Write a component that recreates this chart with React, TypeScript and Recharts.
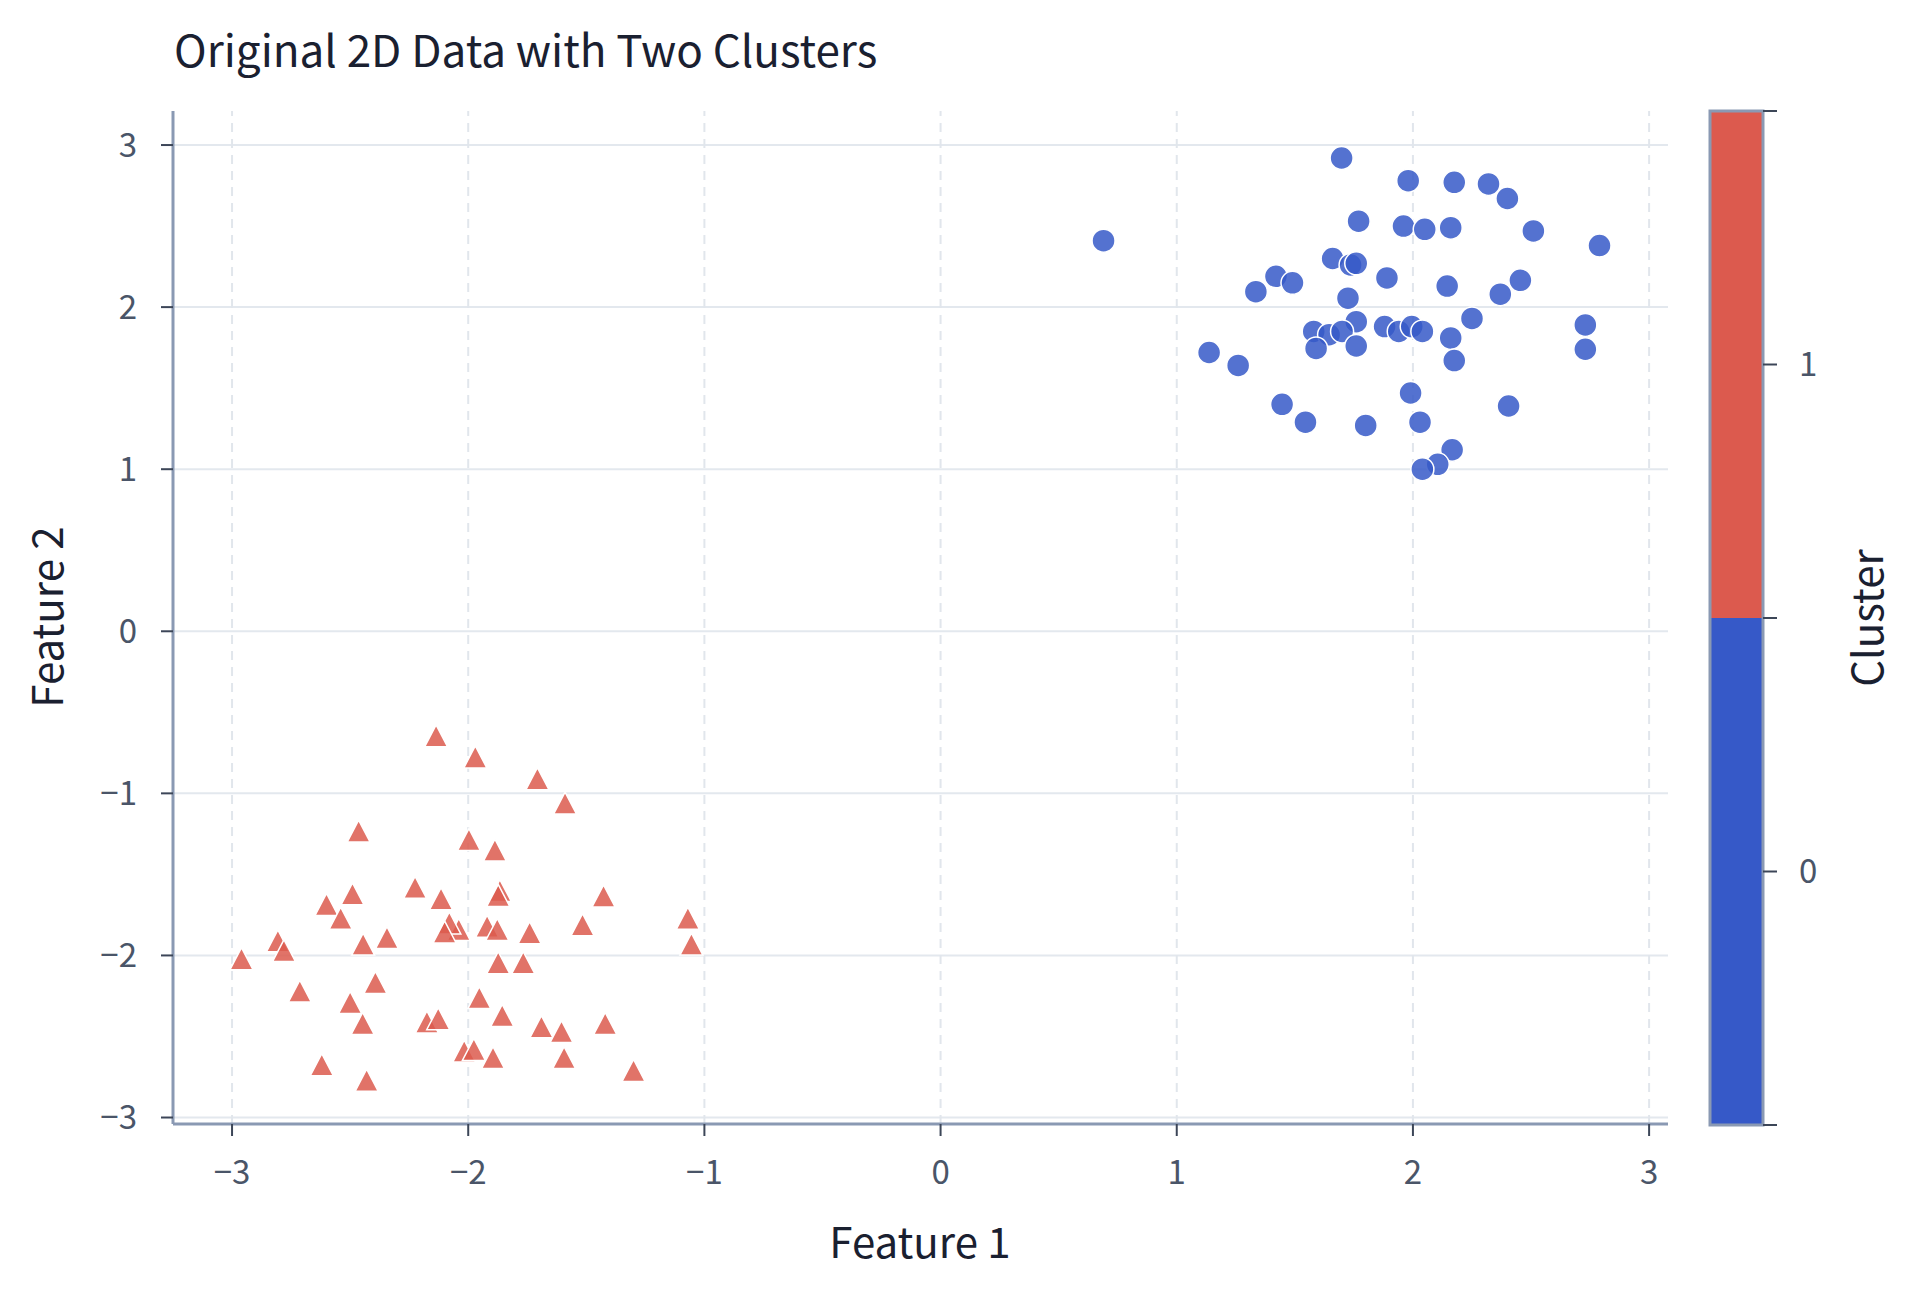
import React from 'react';
import {
  ScatterChart,
  Scatter,
  XAxis,
  YAxis,
  ReferenceLine,
  ComposedChart,
  ReferenceArea,
} from 'recharts';

// cluster 0 (blue circles)
const cluster0X = [
  1.698, 0.69, 1.98, 2.175, 2.32, 2.4, 1.77, 1.96, 2.05, 2.16, 2.51, 2.79, 1.66, 1.736, 1.76,
  1.42, 1.49, 1.335, 1.89, 2.145, 2.455, 2.37, 1.725, 1.76, 1.58, 1.645, 1.7, 1.59, 1.76, 1.88,
  1.94, 1.995, 2.04, 2.25, 2.16, 2.175, 2.73, 2.73, 1.137, 1.26, 1.446, 1.545, 1.8, 1.99, 2.03,
  2.405, 2.166, 2.105, 2.04,
];
const cluster0Y = [
  2.92, 2.41, 2.78, 2.77, 2.76, 2.67, 2.53, 2.5, 2.48, 2.49, 2.47, 2.38, 2.3, 2.26, 2.27,
  2.19, 2.15, 2.095, 2.18, 2.13, 2.165, 2.08, 2.055, 1.91, 1.85, 1.83, 1.85, 1.745, 1.76, 1.88,
  1.85, 1.88, 1.85, 1.93, 1.81, 1.67, 1.89, 1.74, 1.72, 1.64, 1.4, 1.29, 1.27, 1.47, 1.29,
  1.39, 1.12, 1.03, 1.0,
];

// cluster 1 (red triangles)
const cluster1X = [
  -2.136, -1.97, -1.707, -1.59, -2.464, -1.997, -1.887, -2.225, -2.115, -2.49, -2.6, -2.54,
  -1.866, -1.873, -1.427, -1.07, -1.055, -1.516, -1.74, -1.92, -1.877, -2.04, -2.08, -2.1,
  -2.344, -2.445, -2.806, -2.78, -2.96, -1.873, -1.767, -2.393, -2.713, -2.5, -2.447, -2.175,
  -2.127, -1.953, -1.856, -1.69, -1.605, -1.42, -2.017, -1.976, -1.895, -1.594, -2.62, -2.43,
  -1.3,
];
const cluster1Y = [
  -0.645, -0.775, -0.91, -1.06, -1.233, -1.285, -1.35, -1.58, -1.65, -1.62, -1.685, -1.77,
  -1.6, -1.63, -1.633, -1.77, -1.93, -1.81, -1.86, -1.82, -1.84, -1.84, -1.8, -1.855,
  -1.89, -1.93, -1.91, -1.97, -2.02, -2.045, -2.045, -2.167, -2.22, -2.29, -2.42, -2.41,
  -2.39, -2.26, -2.37, -2.44, -2.47, -2.42, -2.59, -2.58, -2.63, -2.63, -2.674, -2.77,
  -2.71,
];

const axisTicks = [-3, -2, -1, 0, 1, 2, 3];
const colorbarTicks = [-0.5, 0, 0.5, 1, 1.5];
const colorbarLabels = [0, 1];

const cluster0 = cluster0X.map((x, i) => ({ x, y: cluster0Y[i] }));
const cluster1 = cluster1X.map((x, i) => ({ x, y: cluster1Y[i] }));

const FONT = '"Noto Sans CJK KR", "Noto Sans", sans-serif';
const BLUE = '#3659c8';
const RED = '#dc5a4e';
const AXIS = '#8a99b3';
const TICK = '#3c4658';
const TICK_TEXT = '#4a5568';

const fmt = (v: number) => (v < 0 ? `\u2212${Math.abs(v)}` : `${v}`);

const Circle = (props: any) => (
  <circle cx={props.cx} cy={props.cy} r={11.5} fill={BLUE} fillOpacity={0.85} stroke="#fff" strokeWidth={1.5} />
);

const Triangle = (props: any) => {
  const { cx, cy } = props;
  return (
    <path
      d={`M${cx},${cy - 11} L${cx + 11.5},${cy + 11} L${cx - 11.5},${cy + 11} Z`}
      fill={RED}
      fillOpacity={0.85}
      stroke="#fff"
      strokeWidth={1.5}
    />
  );
};

const tickStyle = { fontFamily: FONT, fontSize: 33, fill: TICK_TEXT };

export default function App() {
  return (
    <div style={{ position: 'relative', width: 1920, height: 1293, background: '#fff' }}>
      <style>{`body{margin:0}`}</style>
      <div style={{ position: 'absolute', left: 0, top: 0 }}>
        <ScatterChart width={1920} height={1293} margin={{ top: 111, right: 252, bottom: 0, left: 0 }}>
          {/* solid horizontal grid, dashed vertical grid */}
          {axisTicks.map((t) => (
            <ReferenceLine key={`h${t}`} y={t} stroke="#e3e8ee" strokeWidth={2} />
          ))}
          {axisTicks.map((t) => (
            <ReferenceLine key={`v${t}`} x={t} stroke="#e1e6ec" strokeWidth={2} strokeDasharray="9 7" />
          ))}
          <XAxis
            type="number"
            dataKey="x"
            domain={[-3.25, 3.08]}
            ticks={axisTicks}
            allowDataOverflow
            height={169}
            axisLine={{ stroke: AXIS, strokeWidth: 3 }}
            tickLine={{ stroke: TICK, strokeWidth: 2 }}
            tickSize={12}
            tickMargin={25}
            tick={tickStyle}
            tickFormatter={fmt}
          />
          <YAxis
            type="number"
            dataKey="y"
            domain={[-3.04, 3.21]}
            ticks={axisTicks}
            allowDataOverflow
            width={173}
            axisLine={{ stroke: AXIS, strokeWidth: 3 }}
            tickLine={{ stroke: TICK, strokeWidth: 2 }}
            tickSize={12}
            tickMargin={24}
            tick={tickStyle}
            tickFormatter={fmt}
          />
          <Scatter data={cluster0} shape={Circle} isAnimationActive={false} />
          <Scatter data={cluster1} shape={Triangle} isAnimationActive={false} />
        </ScatterChart>
      </div>

      {/* colorbar */}
      <div style={{ position: 'absolute', left: 0, top: 0 }}>
        <ComposedChart width={1920} height={1293} data={[{ x: 0, y: 0 }]} margin={{ top: 111, right: 0, bottom: 168, left: 1710 }}>
          <XAxis type="number" dataKey="x" domain={[0, 1]} hide />
          <YAxis
            type="number"
            dataKey="y"
            orientation="right"
            domain={[-0.5, 1.5]}
            ticks={colorbarTicks}
            allowDataOverflow
            width={157}
            axisLine={false}
            tickLine={{ stroke: TICK, strokeWidth: 2 }}
            tickSize={14}
            tickMargin={22}
            tick={tickStyle}
            tickFormatter={(v: number) => (colorbarLabels.includes(v) ? `${v}` : '')}
          />
          <ReferenceArea x1={0} x2={1} y1={-0.5} y2={0.5} fill={BLUE} fillOpacity={1} stroke="none" />
          <ReferenceArea x1={0} x2={1} y1={0.5} y2={1.5} fill={RED} fillOpacity={1} stroke="none" />
          <ReferenceArea x1={0} x2={1} y1={-0.5} y2={1.5} fill="none" stroke={AXIS} strokeWidth={3} />
        </ComposedChart>
      </div>

      <svg width={1920} height={1293} style={{ position: 'absolute', left: 0, top: 0, pointerEvents: 'none' }}>
        <text x={174} y={67} fontFamily={FONT} fontSize={44} fill="#1a2030">
          Original 2D Data with Two Clusters
        </text>
        <text x={920} y={1258} textAnchor="middle" fontFamily={FONT} fontSize={42} fill="#1a2030">
          Feature 1
        </text>
        <text x={63} y={617} textAnchor="middle" fontFamily={FONT} fontSize={42} fill="#1a2030" transform="rotate(-90 63 617)">
          Feature 2
        </text>
        <text x={1883} y={618} textAnchor="middle" fontFamily={FONT} fontSize={42} fill="#1a2030" transform="rotate(-90 1883 618)">
          Cluster
        </text>
      </svg>
    </div>
  );
}
